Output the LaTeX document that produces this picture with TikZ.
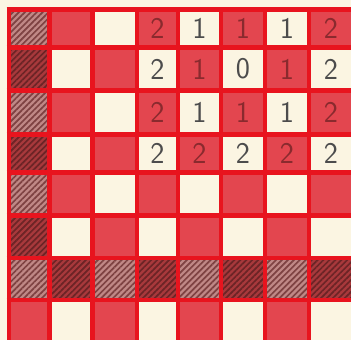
\documentclass[tikz,border=0pt]{standalone}
\usetikzlibrary{patterns.meta}
\definecolor{gridred}{HTML}{E8141E}
\definecolor{cellred}{HTML}{E3464F}
\definecolor{cream}{HTML}{FBF5E2}
\definecolor{hatchlightbase}{HTML}{C08886}
\definecolor{hatchlightline}{HTML}{7E4242}
\definecolor{hatchdarkbase}{HTML}{A8393C}
\definecolor{hatchdarkline}{HTML}{6C2426}
\definecolor{numred}{HTML}{8A2A2E}
\definecolor{numgray}{HTML}{4C4C4C}
\tikzset{
  gridline/.style={draw=gridred, line width=4.8pt},
  redcell/.style={fill=cellred},
  hatchlight/.style={fill=hatchlightbase, postaction={pattern={Lines[angle=45,distance=4.2pt,line width=1.7pt]}, pattern color=hatchlightline}},
  hatchdark/.style={fill=hatchdarkbase, postaction={pattern={Lines[angle=45,distance=4.2pt,line width=1.7pt]}, pattern color=hatchdarkline}},
  digit/.style={font=\fontsize{30}{30}\selectfont\sffamily, inner sep=0pt}
}
\begin{document}
\begin{tikzpicture}[x=1pt,y=-1pt]
\def\X{{9,49.5,92.5,137,178,221,265,309,353}}
\def\Y{{9.5,47.5,90.5,134.5,172.5,215.5,258,300,343}}
\useasboundingbox (0,0) rectangle (351,340);
\fill[cream] (0,0) rectangle (351,340);
\foreach \r in {0,...,7}{
  \foreach \c in {0,...,7}{
    \pgfmathtruncatemacro\cn{\c+1}
    \pgfmathtruncatemacro\rn{\r+1}
    \pgfmathsetmacro\xa{\X[\c]}
    \pgfmathsetmacro\xb{\X[\cn]}
    \pgfmathsetmacro\ya{\Y[\r]}
    \pgfmathsetmacro\yb{\Y[\rn]}
    \pgfmathtruncatemacro\oddc{mod(\r+\c,2)}
    \pgfmathtruncatemacro\hh{or(and(\c==0,\r<7),\r==6)}
    \ifnum\hh=1
      \ifnum\oddc=1
        \path[hatchdark] (\xa,\ya) rectangle (\xb,\yb);
      \else
        \path[hatchlight] (\xa,\ya) rectangle (\xb,\yb);
      \fi
    \else
      \ifnum\oddc=1
        \path[redcell] (\xa,\ya) rectangle (\xb,\yb);
      \fi
    \fi
  }
}
\foreach \i in {0,...,7}{
  \pgfmathsetmacro\xx{\X[\i]}
  \draw[gridline] (\xx,7.1) -- (\xx,340);
  \pgfmathsetmacro\yy{\Y[\i]}
  \draw[gridline] (6.6,\yy) -- (351,\yy);
}
\foreach \r/\row in {0/{2,1,1,1,2},1/{2,1,0,1,2},2/{2,1,1,1,2},3/{2,2,2,2,2}}{
  \foreach \d [count=\k from 3] in \row {
    \pgfmathtruncatemacro\kn{\k+1}
    \pgfmathtruncatemacro\rn{\r+1}
    \pgfmathsetmacro\xa{\X[\k]}
    \pgfmathsetmacro\xb{\X[\kn]}
    \pgfmathsetmacro\ya{\Y[\r]}
    \pgfmathsetmacro\yb{\Y[\rn]}
    \pgfmathsetmacro\cx{(\xa+\xb)/2}
    \pgfmathsetmacro\cy{(\ya+\yb)/2}
    \pgfmathtruncatemacro\oddc{mod(\r+\k,2)}
    \ifnum\oddc=1
      \node[digit, text=numred] (n-\r-\k) at (\cx,\cy) {\d};
    \else
      \node[digit, text=numgray] (n-\r-\k) at (\cx,\cy) {\d};
    \fi
  }
}
\end{tikzpicture}
\end{document}
